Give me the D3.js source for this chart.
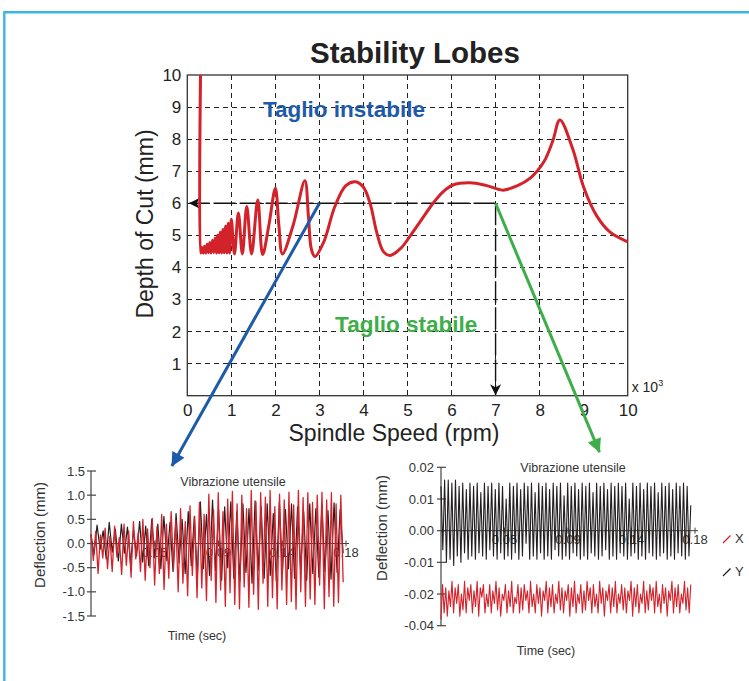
<!DOCTYPE html>
<html>
<head>
<meta charset="utf-8">
<script src="https://cdn.jsdelivr.net/npm/d3@7"></script>
<style>
  body { margin: 0; background: #fff; }
  svg { display: block; font-family: "Liberation Sans", Arial, Helvetica, sans-serif; }
</style>
</head>
<body>
<svg id="canvas" width="749" height="681"></svg>
<script>
// stability lobe curve (spindle speed x1000 rpm, depth of cut mm)
let lobeRpm = [0.3, 0.3, 0.33, 0.36, 0.39, 0.42, 0.45, 0.48, 0.51, 0.54, 0.57, 0.60, 0.63, 0.66, 0.69, 0.72, 0.75, 0.78,
  0.81, 0.84, 0.87, 0.90, 0.93, 0.96, 1.0, 1.07, 1.16, 1.25, 1.35, 1.46, 1.6, 1.71, 1.85, 2.0, 2.08, 2.16, 2.4, 2.67,
  2.75, 2.82, 2.9, 3.1, 3.35, 3.6, 3.82, 4.0, 4.15, 4.3, 4.45, 4.6, 4.85, 5.05, 5.3, 5.58, 5.8, 6.03, 6.42, 6.8, 7.17,
  7.5, 7.8, 8.1, 8.3, 8.46, 8.75, 9.0, 9.3, 9.6, 10.0]
let lobeDepth = [10, 4.45, 4.62, 4.45, 4.66, 4.45, 4.72, 4.46, 4.78, 4.45, 4.85, 4.46, 4.92, 4.45, 5.0, 4.46, 5.1, 4.45,
  5.18, 4.46, 5.28, 4.45, 5.38, 4.45, 5.5, 4.42, 5.7, 4.42, 5.9, 4.42, 6.1, 4.4, 5.3, 6.47, 5.3, 4.42, 5.3, 6.7,
  5.6, 4.55, 4.34, 4.8, 5.9, 6.55, 6.67, 6.5, 6.0, 5.1, 4.5, 4.37, 4.6, 4.96, 5.45, 6.0, 6.35, 6.57, 6.64, 6.55, 6.41,
  6.55, 6.8, 7.3, 7.95, 8.6, 7.7, 6.5, 5.6, 5.1, 4.8]

let xTicks = [0, 1, 2, 3, 4, 5, 6, 7, 8, 9, 10]
let yTicks = [1, 2, 3, 4, 5, 6, 7, 8, 9, 10]

// chosen working point and the arrows to the two vibration plots (rpm, mm)
let pointDepth = 6
let unstableRpm = 3
let stableRpm = 7
let blueTip = [-0.35, -2.19]
let greenTip = [9.36, -1.76]

// vibration samples, alternating peaks
let timeTicks = [0.045, 0.09, 0.135, 0.18]
let timeLabels = ['0.05', '0.09', '0.14', '0.18']

let leftTicks = [1.5, 1.0, 0.5, 0.0, -0.5, -1.0, -1.5]
let leftLabels = ['1.5', '1.0', '0.5', '0.0', '-0.5', '-1.0', '-1.5']
let leftTimeEnd = 0.178
let leftRed = [
  0.20, -0.35, 0.25, -0.62, 0.18, -0.30, 0.32, -0.52, 0.15, -0.58,
  0.36, -0.28, 0.12, -0.64, 0.40, -0.45, 0.26, -0.70, 0.45, -0.32,
  0.22, -0.58, 0.50, -0.76, 0.30, -0.50, 0.52, -0.86, 0.35, -0.62,
  0.60, -0.95, 0.40, -0.72, 0.66, -0.52, 0.48, -1.00, 0.72, -0.82,
  0.45, -1.08, 0.78, -0.66, 0.56, -1.12, 0.85, -0.92, 0.60, -1.18,
  1.02, -0.76, 0.70, -1.22, 1.05, -0.96, 0.66, -1.30, 0.92, -1.02,
  1.08, -1.26, 0.82, -1.35, 1.00, -0.90, 0.72, -1.32, 1.10, -1.05,
  0.86, -1.36, 1.05, -0.82, 0.96, -1.30, 1.10, -1.12, 0.76, -1.35,
  1.02, -0.96, 0.90, -1.26, 1.06, -1.20, 0.80, -1.36, 1.10, -1.00,
  0.95, -1.30, 1.05, -1.15, 0.85, -1.26, 1.00, -0.86, 1.06, -1.35,
  0.90, -1.10, 1.05, -1.30, 0.82, -1.22, 1.00, -0.80]
let leftBlack = [
  0.18, -0.22, 0.38, -0.12, 0.26, -0.32, 0.44, -0.18, 0.30, -0.36,
  0.40, -0.20, 0.34, -0.42, 0.28, -0.26, 0.46, -0.38, 0.36, -0.46,
  0.50, -0.30, 0.40, -0.52, 0.56, -0.36, 0.44, -0.58, 0.62, -0.40,
  0.50, -0.62, 0.66, -0.46, 0.56, -0.70, 0.86, -0.52, 0.60, -0.66,
  0.90, -0.56, 0.70, -0.76, 0.76, -0.50, 0.86, -0.72, 0.66, -0.78,
  0.82, -0.60, 0.72, -0.82, 0.88, -0.56, 0.76, -0.72, 0.82, -0.66,
  0.62, -0.78, 0.86, -0.62, 0.70, -0.52, 0.82, -0.72, 0.76, -0.56,
  0.66, -0.76, 0.82, -0.62, 0.72, -0.70, 0.80, -0.58, 0.68, -0.74,
  0.84, -0.60, 0.70, -0.20]

let rightTicks = [0.02, 0.01, 0.0, -0.01, -0.02, -0.03]
let rightLabels = ['0.02', '0.01', '0.00', '-0.01', '-0.02', '-0.04']
let rightTimeEnd = 0.177
let rightBlack = [
  0.014, -0.006, 0.016, -0.010, 0.016, -0.009, 0.015, -0.011, 0.016, -0.008,
  0.014, -0.010, 0.015, -0.007, 0.013, -0.009, 0.015, -0.008, 0.014, -0.009,
  0.015, -0.007, 0.012, -0.008, 0.015, -0.009, 0.014, -0.006, 0.015, -0.008,
  0.013, -0.009, 0.015, -0.007, 0.014, -0.009, 0.010, -0.008, 0.015, -0.009,
  0.014, -0.007, 0.015, -0.009, 0.013, -0.008, 0.015, -0.004, 0.014, -0.009,
  0.015, -0.008, 0.012, -0.009, 0.015, -0.007, 0.014, -0.009, 0.015, -0.008,
  0.013, -0.009, 0.015, -0.006, 0.014, -0.008, 0.015, -0.009, 0.011, -0.008,
  0.015, -0.009, 0.014, -0.007, 0.015, -0.008, 0.013, -0.009, 0.015, -0.008,
  0.014, -0.009, 0.015, -0.007, 0.012, -0.008, 0.015, -0.009, 0.014, -0.008,
  0.015, -0.006, 0.013, -0.009, 0.015, -0.008, 0.014, -0.009, 0.015, -0.007,
  0.014, -0.008, 0.015, -0.009, 0.010, -0.008, 0.015, -0.007, 0.014, -0.009,
  0.015, -0.008, 0.013, -0.009, 0.015, -0.007, 0.014, -0.008, 0.015, -0.009,
  0.012, -0.008, 0.015, -0.007, 0.014, -0.009, 0.015, -0.008, 0.013, -0.009,
  0.015, -0.007, 0.014, -0.008, 0.015, -0.009, 0.014, -0.008, 0.008]
let rightRed = [
  -0.028, -0.017, -0.026, -0.018, -0.027, -0.019, -0.024, -0.016, -0.026, -0.018,
  -0.023, -0.017, -0.027, -0.020, -0.025, -0.016, -0.026, -0.018, -0.022, -0.017,
  -0.026, -0.019, -0.024, -0.016, -0.027, -0.018, -0.021, -0.017, -0.026, -0.020,
  -0.024, -0.017, -0.026, -0.019, -0.023, -0.016, -0.025, -0.018, -0.027, -0.020,
  -0.022, -0.017, -0.026, -0.019, -0.024, -0.016, -0.026, -0.021, -0.023, -0.017,
  -0.026, -0.018, -0.025, -0.017, -0.022, -0.019, -0.026, -0.016, -0.024, -0.020,
  -0.026, -0.017, -0.023, -0.018, -0.027, -0.019, -0.022, -0.016, -0.026, -0.018,
  -0.024, -0.017, -0.026, -0.020, -0.023, -0.016, -0.025, -0.018, -0.026, -0.019,
  -0.022, -0.017, -0.027, -0.018, -0.024, -0.016, -0.026, -0.020, -0.023, -0.017,
  -0.026, -0.019, -0.025, -0.016, -0.022, -0.018, -0.026, -0.017, -0.024, -0.020,
  -0.026, -0.016, -0.023, -0.018, -0.027, -0.019, -0.022, -0.017, -0.026, -0.018,
  -0.024, -0.016, -0.026, -0.020, -0.023, -0.017, -0.025, -0.018, -0.026, -0.019,
  -0.022, -0.016, -0.027, -0.018, -0.024, -0.017, -0.026, -0.020, -0.023, -0.016,
  -0.026, -0.019, -0.025, -0.017, -0.022, -0.018, -0.026, -0.016, -0.024, -0.020,
  -0.026, -0.017, -0.023, -0.018, -0.027, -0.019, -0.022, -0.016, -0.026, -0.018,
  -0.024, -0.017, -0.026, -0.020, -0.023, -0.016, -0.025, -0.018, -0.026, -0.017]

let red = '#d3222a'
let blue = '#1d5aa9'
let green = '#3dae49'

let canvas = d3.select('#canvas')

// light blue frame around the figure
canvas.append('path')
  .attr('d', 'M4.3,681 L4.3,12.2 L749,12.2')
  .attr('fill', 'none')
  .attr('stroke', '#3db6e2')
  .attr('stroke-width', 2.4)

// arrow heads
let defs = canvas.append('defs')
let addMarker = (id, color, w, h, path) => {
  defs.append('marker')
    .attr('id', id)
    .attr('viewBox', '0 0 10 10')
    .attr('refX', 9.5).attr('refY', 5)
    .attr('markerUnits', 'userSpaceOnUse')
    .attr('markerWidth', w).attr('markerHeight', h)
    .attr('orient', 'auto')
    .append('path')
    .attr('d', path)
    .attr('fill', color)
}
addMarker('headBlack', '#111', 13, 11, 'M0,0 L10,5 L0,10 L3,5 z')
addMarker('headBlue', blue, 16, 14, 'M0,0 L10,5 L0,10 z')
addMarker('headGreen', green, 16, 14, 'M0,0 L10,5 L0,10 z')

// ---------- stability lobes ----------
let x = d3.scaleLinear().domain([0, 10]).range([187.3, 627.7])
let y = d3.scaleLinear().domain([0, 10]).range([395.7, 75])

let grid = canvas.append('g')
  .attr('stroke', '#222')
  .attr('stroke-width', 1)
  .attr('stroke-dasharray', '5,4')
  .attr('shape-rendering', 'crispEdges')

grid.selectAll('.vgrid')
  .data(xTicks.slice(1, -1))
  .enter()
  .append('line')
  .attr('x1', (d) => x(d)).attr('x2', (d) => x(d))
  .attr('y1', y(10)).attr('y2', y(0))

grid.selectAll('.hgrid')
  .data(yTicks.slice(0, -1))
  .enter()
  .append('line')
  .attr('x1', x(0)).attr('x2', x(10))
  .attr('y1', (d) => y(d)).attr('y2', (d) => y(d))

canvas.append('rect')
  .attr('x', x(0)).attr('y', y(10))
  .attr('width', x(10) - x(0)).attr('height', y(0) - y(10))
  .attr('fill', 'none')
  .attr('stroke', '#333')
  .attr('stroke-width', 1.3)

let xAxis = canvas.append('g')
  .attr('transform', 'translate(0,' + y(0) + ')')
  .call(d3.axisBottom(x).tickValues(xTicks).tickSize(0).tickPadding(8))
let yAxis = canvas.append('g')
  .attr('transform', 'translate(' + x(0) + ',0)')
  .call(d3.axisLeft(y).tickValues(yTicks).tickSize(0).tickPadding(6))
xAxis.select('.domain').remove()
yAxis.select('.domain').remove()
canvas.selectAll('.tick text')
  .attr('font-size', 17)
  .attr('font-family', '"Liberation Sans", Arial, sans-serif')
  .attr('fill', '#222')

// x 10^3 multiplier
let mult = canvas.append('text')
  .attr('x', x(10) + 4).attr('y', y(0) - 4)
  .attr('font-size', 14).attr('fill', '#222')
mult.append('tspan').text('x 10')
mult.append('tspan').attr('dy', -6).attr('font-size', 9).text('3')

canvas.append('text')
  .attr('x', 415).attr('y', 63)
  .attr('text-anchor', 'middle')
  .attr('font-size', 29.5).attr('font-weight', 'bold').attr('fill', '#222')
  .text('Stability Lobes')

canvas.append('text')
  .attr('x', 394).attr('y', 441)
  .attr('text-anchor', 'middle')
  .attr('font-size', 23).attr('fill', '#222')
  .text('Spindle Speed (rpm)')

canvas.append('text')
  .attr('transform', 'translate(153,224) rotate(-90)')
  .attr('text-anchor', 'middle')
  .attr('font-size', 23).attr('fill', '#222')
  .text('Depth of Cut (mm)')

// dashed arrows from the working point to the axes
canvas.append('line')
  .attr('x1', x(stableRpm)).attr('y1', y(pointDepth))
  .attr('x2', x(0.05)).attr('y2', y(pointDepth))
  .attr('stroke', '#111').attr('stroke-width', 1.4)
  .attr('stroke-dasharray', '22,4')
  .attr('marker-end', 'url(#headBlack)')
canvas.append('line')
  .attr('x1', x(stableRpm)).attr('y1', y(pointDepth))
  .attr('x2', x(stableRpm)).attr('y2', y(0.03))
  .attr('stroke', '#111').attr('stroke-width', 1.4)
  .attr('stroke-dasharray', '22,4')
  .attr('marker-end', 'url(#headBlack)')

let lobeLine = d3.line()
  .x((d, i) => x(lobeRpm[i]))
  .y((d) => y(d))
  .curve(d3.curveCatmullRom.alpha(0.5))

canvas.append('path')
  .datum(lobeDepth)
  .attr('d', lobeLine)
  .attr('fill', 'none')
  .attr('stroke', red)
  .attr('stroke-width', 3)
  .attr('stroke-linejoin', 'round')

canvas.append('text')
  .attr('x', x(3.56)).attr('y', y(8.69))
  .attr('text-anchor', 'middle')
  .attr('font-size', 22.5).attr('font-weight', 'bold').attr('fill', blue)
  .text('Taglio instabile')

canvas.append('text')
  .attr('x', x(4.97)).attr('y', y(1.99))
  .attr('text-anchor', 'middle')
  .attr('font-size', 22.5).attr('font-weight', 'bold').attr('fill', green)
  .text('Taglio stabile')

canvas.append('line')
  .attr('x1', x(unstableRpm)).attr('y1', y(pointDepth))
  .attr('x2', x(blueTip[0])).attr('y2', y(blueTip[1]))
  .attr('stroke', blue).attr('stroke-width', 3)
  .attr('marker-end', 'url(#headBlue)')

canvas.append('line')
  .attr('x1', x(stableRpm)).attr('y1', y(pointDepth))
  .attr('x2', x(greenTip[0])).attr('y2', y(greenTip[1]))
  .attr('stroke', green).attr('stroke-width', 3)
  .attr('marker-end', 'url(#headGreen)')

// ---------- vibration plots ----------
let drawVibration = (cfg) => {
  let xs = d3.scaleLinear().domain([0, 0.18]).range(cfg.xRange)
  let ys = d3.scaleLinear().domain(cfg.yDomain).range(cfg.yRange)
  let g = canvas.append('g').attr('fill', '#333')
  let x0 = cfg.xRange[0]

  // y axis with ticks crossing it
  g.append('line')
    .attr('x1', x0).attr('x2', x0)
    .attr('y1', ys(cfg.yTicks[0])).attr('y2', ys(cfg.yTicks[cfg.yTicks.length - 1]))
    .attr('stroke', '#444').attr('stroke-width', 1.2)
  g.selectAll('.ytick')
    .data(cfg.yTicks)
    .enter()
    .append('line')
    .attr('x1', x0 - 4).attr('x2', x0 + 5)
    .attr('y1', (d) => ys(d)).attr('y2', (d) => ys(d))
    .attr('stroke', '#444').attr('stroke-width', 1.2)
  g.selectAll('.ylabel')
    .data(cfg.yTicks)
    .enter()
    .append('text')
    .attr('x', x0 - cfg.labelGap).attr('y', (d) => ys(d))
    .attr('dy', '0.35em')
    .attr('text-anchor', 'end')
    .attr('font-size', 13)
    .text((d, i) => cfg.yLabels[i])

  // time axis along zero
  g.append('line')
    .attr('x1', x0).attr('x2', xs(0.18) + 3)
    .attr('y1', ys(0)).attr('y2', ys(0))
    .attr('stroke', '#444').attr('stroke-width', 1)
  g.selectAll('.xtick')
    .data(timeTicks)
    .enter()
    .append('line')
    .attr('x1', (d) => xs(d)).attr('x2', (d) => xs(d))
    .attr('y1', ys(0) - 3).attr('y2', ys(0) + 3)
    .attr('stroke', '#444')
  g.selectAll('.xlabel')
    .data(timeTicks)
    .enter()
    .append('text')
    .attr('x', (d) => xs(d)).attr('y', ys(0) + 13)
    .attr('text-anchor', 'middle')
    .attr('font-size', 13)
    .text((d, i) => timeLabels[i])

  g.append('text')
    .attr('x', cfg.titleX).attr('y', cfg.titleY)
    .attr('text-anchor', 'middle').attr('font-size', 12.5)
    .text('Vibrazione utensile')
  g.append('text')
    .attr('x', cfg.timeX).attr('y', cfg.timeY)
    .attr('text-anchor', 'middle').attr('font-size', 12.5)
    .text('Time (sec)')
  g.append('text')
    .attr('transform', 'translate(' + cfg.defX + ',' + cfg.defY + ') rotate(-90)')
    .attr('text-anchor', 'middle').attr('font-size', 15)
    .text('Deflection (mm)')

  // signals: black (Y) under red (X)
  cfg.series.forEach((s) => {
    let line = d3.line()
      .x((d, i) => xs(i * cfg.timeEnd / (s.values.length - 1)))
      .y((d) => ys(d))
    g.append('path')
      .datum(s.values)
      .attr('d', line)
      .attr('fill', 'none')
      .attr('stroke', s.color)
      .attr('stroke-width', s.width)
      .attr('stroke-linejoin', 'round')
  })
}

drawVibration({
  xRange: [91, 346], yDomain: [-1.5, 1.5], yRange: [616, 471],
  yTicks: leftTicks, yLabels: leftLabels, labelGap: 6, timeEnd: leftTimeEnd,
  titleX: 233, titleY: 486, timeX: 197, timeY: 640, defX: 45, defY: 535,
  series: [
    { values: leftBlack, color: '#231f20', width: 1.2 },
    { values: leftRed, color: red, width: 1.3 }
  ]
})

drawVibration({
  xRange: [441, 695], yDomain: [-0.03, 0.02], yRange: [625.7, 467.3],
  yTicks: rightTicks, yLabels: rightLabels, labelGap: 7, timeEnd: rightTimeEnd,
  titleX: 573, titleY: 472, timeX: 546, timeY: 655, defX: 387, defY: 528,
  series: [
    { values: rightBlack, color: '#231f20', width: 1.1 },
    { values: rightRed, color: red, width: 1.1 }
  ]
})

// legend of the right plot
let legend = [{ name: 'X', color: red, y: 543 }, { name: 'Y', color: '#231f20', y: 576 }]
let items = canvas.selectAll('.legend')
  .data(legend)
  .enter()
  .append('g')
items.append('line')
  .attr('x1', 723).attr('x2', 730.5)
  .attr('y1', (d) => d.y).attr('y2', (d) => d.y - 7.5)
  .attr('stroke', (d) => d.color).attr('stroke-width', 1.2)
items.append('text')
  .attr('x', 735).attr('y', (d) => d.y)
  .attr('font-size', 13).attr('fill', '#333')
  .text((d) => d.name)
</script>
</body>
</html>
